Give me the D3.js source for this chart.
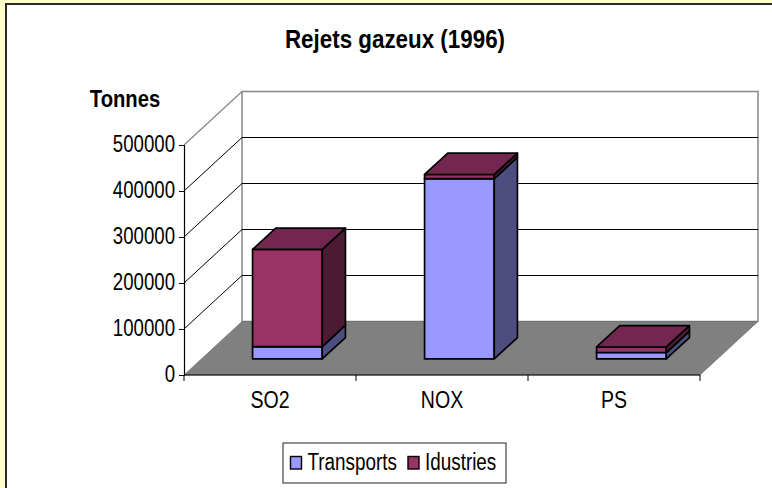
<!DOCTYPE html>
<html>
<head>
<meta charset="utf-8">
<script src="https://cdn.jsdelivr.net/npm/d3@7"></script>
<style>
  html, body { margin: 0; padding: 0; background: #ffffcc; }
  svg { display: block; font-family: "Liberation Sans", Arial, sans-serif; }
</style>
</head>
<body>
<div id="chart"></div>
<script>
const WIDTH = 772;
const HEIGHT = 488;

const categories = ["SO2", "NOX", "PS"];
const seriesNames = ["Transports", "Idustries"];
const transports = [27000, 392000, 14000];
const industries = [211000, 9000, 12000];
const yTicks = [0, 100000, 200000, 300000, 400000, 500000];

const colors = {
  Transports: { front: "#9999ff", top: "#72729f", side: "#4d4d80" },
  Idustries: { front: "#993366", top: "#732650", side: "#4d1a33" }
};

// oblique projection: depth 0 is the front of the floor, 1 the back wall
const DEPTH = [58, -53.5];
const barDepth = [0.30, 0.70];
const project = (x, y, d) => [x + DEPTH[0] * d, y + DEPTH[1] * d];

const x = d3.scaleBand().domain(categories).range([184, 700]);
const y = d3.scaleLinear().domain([0, 500000]).range([375, 145]);
const barWidth = x.bandwidth() * 0.405;

const line = d3.line();
const poly = pts => line(pts) + "Z";

// the reference text is tall and narrow, so squeeze it horizontally
const squeeze = (sel, k) => sel.each(function() {
  d3.select(this)
      .attr("lengthAdjust", "spacingAndGlyphs")
      .attr("textLength", this.getComputedTextLength() * k);
});

const svg = d3.select("#chart").append("svg")
    .attr("width", WIDTH)
    .attr("height", HEIGHT);

// chart frame: only the top and left edges show in the window
svg.append("rect")
    .attr("x", 6).attr("y", 4)
    .attr("width", WIDTH - 6).attr("height", HEIGHT - 4)
    .attr("fill", "#fff");
svg.append("path")
    .attr("d", line([[6, HEIGHT], [6, 4], [WIDTH, 4]]))
    .attr("fill", "none")
    .attr("stroke", "#2a2a2a")
    .attr("stroke-width", 2);

// back wall and side wall
const x0 = x.range()[0], x1 = x.range()[1];
const wall = svg.append("g");
wall.append("path")
    .attr("d", poly([project(x0, y(0), 1), project(x1, y(0), 1), project(x1, y(500000), 1), project(x0, y(500000), 1)]))
    .attr("fill", "#fff")
    .attr("stroke", "#868686")
    .attr("stroke-width", 1.5);
wall.append("path")
    .attr("d", line([[x0, y(500000)], project(x0, y(500000), 1)]))
    .attr("fill", "none")
    .attr("stroke", "#868686")
    .attr("stroke-width", 1.2);

// gridlines
yTicks.slice(1, -1).forEach(t => {
  wall.append("path")
      .attr("d", line([[x0, y(t)], project(x0, y(t), 1), project(x1, y(t), 1)]))
      .attr("fill", "none")
      .attr("stroke", "#000")
      .attr("stroke-width", 1);
});

// floor
svg.append("path")
    .attr("d", poly([[x0, y(0)], [x1, y(0)], project(x1, y(0), 1), project(x0, y(0), 1)]))
    .attr("fill", "#808080")
    .attr("stroke", "#666")
    .attr("stroke-width", 0.6);

// bars, one stack per category
const stackData = categories.map((c, i) => ({ cat: c, Transports: transports[i], Idustries: industries[i] }));
const stacks = d3.stack().keys(seriesNames)(stackData);

const bars = svg.append("g")
    .attr("stroke", "#000")
    .attr("stroke-width", 1.7)
    .attr("stroke-linejoin", "round");

stacks.forEach(layer => {
  const col = colors[layer.key];
  layer.forEach(seg => {
    const left = x(seg.data.cat) + (x.bandwidth() - barWidth) / 2;
    const right = left + barWidth;
    const lo = y(seg[0]), hi = y(seg[1]);
    const g = bars.append("g");
    g.append("path")
        .attr("fill", col.front)
        .attr("d", poly([project(left, lo, barDepth[0]), project(right, lo, barDepth[0]), project(right, hi, barDepth[0]), project(left, hi, barDepth[0])]));
    g.append("path")
        .attr("fill", col.side)
        .attr("d", poly([project(right, lo, barDepth[0]), project(right, lo, barDepth[1]), project(right, hi, barDepth[1]), project(right, hi, barDepth[0])]));
    g.append("path")
        .attr("fill", col.top)
        .attr("d", poly([project(left, hi, barDepth[0]), project(right, hi, barDepth[0]), project(right, hi, barDepth[1]), project(left, hi, barDepth[1])]));
  });
});

// axes
const yAxis = d3.axisLeft(y).tickValues(yTicks).tickFormat(d3.format("d")).tickSize(5).tickPadding(4);
svg.append("g")
    .attr("transform", `translate(${x0},0)`)
    .call(yAxis)
    .call(g => g.select(".domain").attr("stroke", "#000").attr("stroke-width", 1.2))
    .call(g => g.selectAll("text").attr("font-size", 23).attr("dy", "0.29em").attr("fill", "#000").call(squeeze, 0.81));

const xAxis = d3.axisBottom(x).tickSize(0).tickPadding(17);
const xg = svg.append("g")
    .attr("transform", `translate(0,${y(0)})`)
    .call(xAxis)
    .call(g => g.select(".domain").attr("stroke", "#000").attr("stroke-width", 1.2).attr("d", `M${x0},0H${x1}`))
    .call(g => g.selectAll("text").attr("font-size", 23).attr("fill", "#000").call(squeeze, 0.85));
x.domain().map(c => x(c)).concat([x1]).forEach(px => {
  xg.append("line").attr("x1", px).attr("x2", px).attr("y1", 0).attr("y2", 6).attr("stroke", "#000");
});

// titles
svg.append("text")
    .attr("x", 395).attr("y", 47.5)
    .attr("text-anchor", "middle")
    .attr("font-size", 25)
    .attr("font-weight", "bold")
    .text("Rejets gazeux (1996)")
    .call(squeeze, 0.895);
svg.append("text")
    .attr("x", 125).attr("y", 107)
    .attr("text-anchor", "middle")
    .attr("font-size", 23)
    .attr("font-weight", "bold")
    .text("Tonnes")
    .call(squeeze, 0.88);

// legend
const legend = svg.append("g");
legend.append("rect")
    .attr("x", 283).attr("y", 443)
    .attr("width", 223).attr("height", 40)
    .attr("fill", "#fff")
    .attr("stroke", "#444")
    .attr("stroke-width", 1.2);
const legendX = [290.5, 408];
seriesNames.forEach((name, i) => {
  legend.append("rect")
      .attr("x", legendX[i]).attr("y", 456.5)
      .attr("width", 11).attr("height", 12.5)
      .attr("fill", colors[name].front)
      .attr("stroke", "#000")
      .attr("stroke-width", 1.4);
  legend.append("text")
      .attr("x", legendX[i] + 17).attr("y", 470)
      .attr("font-size", 23)
      .text(name)
      .call(squeeze, 0.82);
});
</script>
</body>
</html>
